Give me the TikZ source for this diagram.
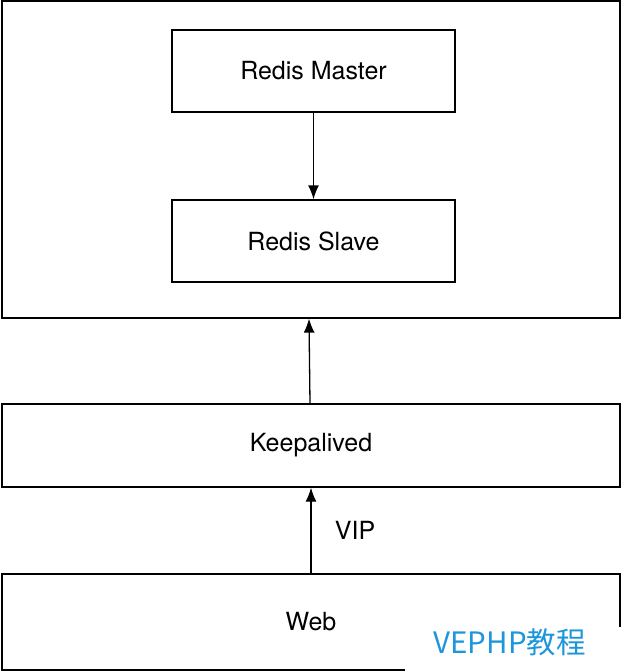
\documentclass[tikz,border=0pt]{standalone}
\usepackage{fontspec}
\setmainfont{TeX Gyre Heros}
\newfontfamily\cjk{Noto Sans CJK SC}
\usetikzlibrary{arrows.meta}
\definecolor{markblue}{RGB}{30,150,220}
\begin{document}
\begin{tikzpicture}[x=1pt, y=-1pt,
    box/.style={draw, line width=1.3pt, inner sep=0pt, font=\fontsize{25}{30}\selectfont},
    link/.style={-{Latex[length=14pt, width=11pt]}, line width=1.3pt}]
    \useasboundingbox (0, 0) rectangle (622, 672);

    \node[box, minimum width=618, minimum height=317] (cluster) at (311, 159.5) {};
    \node[box, minimum width=283, minimum height=82] (master) at (313.5, 71) {Redis Master};
    \node[box, minimum width=283, minimum height=82] (slave) at (313.5, 241) {Redis Slave};
    \node[box, minimum width=618, minimum height=83] (keep) at (311, 445.5) {Keepalived};
    \node[box, minimum width=618, minimum height=96] (web) at (311, 622) {Web};

    \draw[link] (master) -- (slave);
    \draw[link] (keep.north -| 310, 0) -- (cluster.south -| 309, 0);
    \draw[link] (web.north -| 311, 0) -- (keep.south -| 311, 0) node[midway, right=20pt, font=\fontsize{25}{30}\selectfont] (vip) {VIP};

    % watermark
    \fill[white] (405, 627) rectangle (622, 672);
    \node[text=markblue, font=\cjk\fontsize{29.5}{34}\selectfont, anchor=west] (mark) at (430, 642) {VEPHP教程};
\end{tikzpicture}
\end{document}
